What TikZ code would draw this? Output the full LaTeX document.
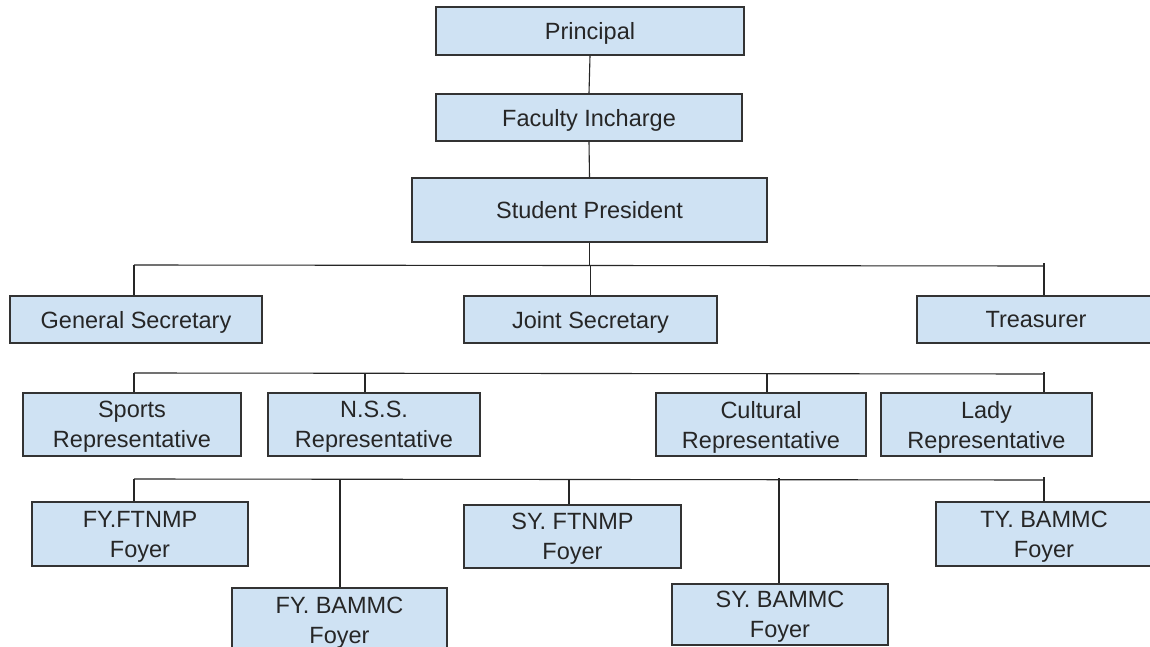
\documentclass[tikz,border=0pt]{standalone}
\usepackage{fontspec}
\setmainfont{Liberation Sans}
\usepackage{tikz}
\definecolor{boxblue}{HTML}{CFE2F3}

\begin{document}
\begin{tikzpicture}[x=1pt, y=-1pt,
	box/.style={draw=black!80, fill=boxblue, line width=1.5pt, inner sep=0pt, align=center, text=black!85, text depth=0pt, font=\fontsize{23.5}{30}\selectfont},
	link/.style={line width=1.1pt, black!85}]
	\clip (0,0) rectangle (1150,647);
	\fill[white] (0,0) rectangle (1150,647);
	
	% top of the chart
	\node[box, minimum width=308pt, minimum height=48pt] (princ) at (590,31) {Principal};
	\node[box, minimum width=306pt, minimum height=47pt] (faculty) at (589,117.5) {Faculty Incharge};
	\node[box, minimum width=355pt, minimum height=64pt] (pres) at (589.5,210) {Student President};
	\draw[link] (princ.south) -- (faculty.north);
	\draw[link] (faculty.south) -- (pres.north);
	
	% secretaries
	\node[box, minimum width=252pt, minimum height=47pt] (gensec) at (136,319.5) {General Secretary};
	\node[box, minimum width=253pt, minimum height=47pt] (jointsec) at (590.5,319.5) {Joint Secretary};
	\node[box, minimum width=238pt, minimum height=47pt] (treas) at (1036,319.5) {Treasurer};
	\coordinate (b1l) at (134,265);
	\coordinate (b1r) at (1044,266);
	\draw[link] (pres.south) -- (pres.south |- b1l);
	\draw[link] (b1l) -- (b1r);
	\draw[link] (b1l) -- (b1l |- gensec.north);
	\draw[link] (jointsec.north |- b1l) -- (jointsec.north);
	\draw[link] ([yshift=3pt]b1r) -- (b1r |- treas.north);
	
	% representatives
	\node[box, minimum width=218pt, minimum height=63pt] (sports) at (132,424.5) {Sports\\Representative};
	\node[box, minimum width=212pt, minimum height=63pt] (nss) at (374,424.5) {N.S.S.\\Representative};
	\node[box, minimum width=210pt, minimum height=63pt] (cult) at (761,424.5) {Cultural\\Representative};
	\node[box, minimum width=211pt, minimum height=63pt] (lady) at (986.5,424.5) {Lady\\Representative};
	\coordinate (b2l) at (134,373);
	\coordinate (b2n) at (365,373);
	\coordinate (b2c) at (767,374);
	\coordinate (b2r) at (1044,374);
	\draw[link] (b2l) -- (b2r);
	\draw[link] (b2l) -- (b2l |- sports.north);
	\draw[link] (b2n) -- (b2n |- nss.north);
	\draw[link] (b2c) -- (b2c |- cult.north);
	\draw[link] ([yshift=2pt]b2r) -- (b2r |- lady.north);
	
	% foyers
	\node[box, minimum width=216pt, minimum height=64pt] (fyft) at (140,534) {FY.FTNMP\\Foyer};
	\node[box, minimum width=215pt, minimum height=64pt] (fyba) at (339.5,620) {FY. BAMMC\\Foyer};
	\node[box, minimum width=217pt, minimum height=63pt] (syft) at (572.5,536.5) {SY. FTNMP\\Foyer};
	\node[box, minimum width=216pt, minimum height=61pt] (syba) at (780,614.5) {SY. BAMMC\\Foyer};
	\node[box, minimum width=216pt, minimum height=64pt] (tyba) at (1044,534) {TY. BAMMC\\Foyer};
	\coordinate (b3l) at (134,479);
	\coordinate (b3a) at (340,479);
	\coordinate (b3b) at (569,479);
	\coordinate (b3c) at (779,480);
	\coordinate (b3r) at (1044,480);
	\draw[link] (b3l) -- (b3r);
	\draw[link] (b3l) -- (b3l |- fyft.north);
	\draw[link] (b3a) -- (b3a |- fyba.north);
	\draw[link] (b3b) -- (b3b |- syft.north);
	\draw[link] ([yshift=2pt]b3c) -- (b3c |- syba.north);
	\draw[link] ([yshift=3pt]b3r) -- (b3r |- tyba.north);
\end{tikzpicture}
\end{document}
